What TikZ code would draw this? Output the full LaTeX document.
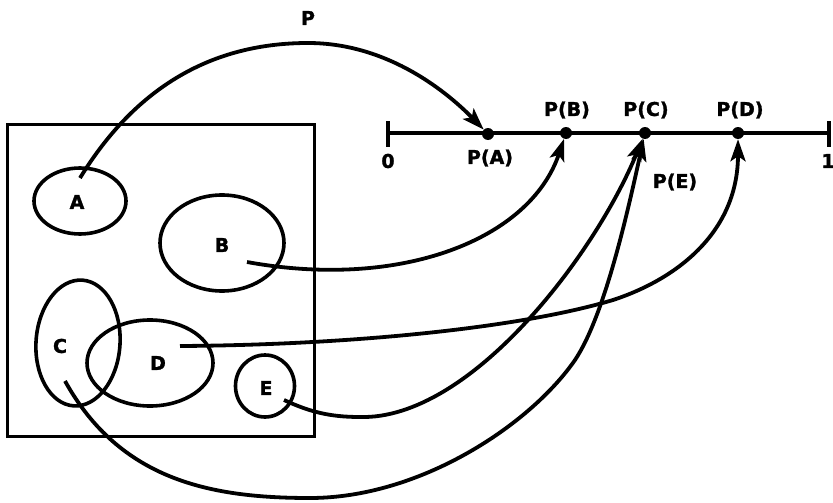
\documentclass[tikz,border=0pt]{standalone}
\usepackage{fontspec}
\setmainfont{DejaVu Sans}
\newfontfamily\lblfont[FakeBold=1.5]{DejaVu Sans Bold}
\usetikzlibrary{shapes.geometric,arrows.meta}
\begin{document}
\begin{tikzpicture}[x=1pt,y=-1pt,
  lbl/.style={font=\lblfont\fontsize{19}{21}\selectfont, inner sep=0pt},
  blob/.style={draw, ellipse, line width=3.6pt, inner sep=0pt},
  conn/.style={line width=3.8pt, -{Stealth[length=22pt,width=15pt,inset=5pt]}},
  dot/.style={circle, fill, inner sep=0pt, minimum size=12pt},
  axis/.style={line width=4pt},
  frame/.style={line width=3pt},
]
\useasboundingbox (0,0) rectangle (833,503);

% sample space
\node[draw, frame, rectangle, minimum width=307pt, minimum height=312pt, inner sep=0pt] (S) at (160.5,280) {};

% events
\node[blob, minimum width=92pt, minimum height=66pt] (eA) at (80,201) {};
\node[blob, minimum width=124pt, minimum height=96pt] (eB) at (222,243) {};
\node[blob, minimum width=84pt, minimum height=126pt, rotate=-4] (eC) at (78,343) {};
\node[blob, minimum width=126pt, minimum height=86pt] (eD) at (150,363) {};
\node[blob, minimum width=59pt, minimum height=62pt] (eE) at (265,386) {};

\node[lbl] (lA) at (77,202) {A};
\node[lbl] (lB) at (222,245) {B};
\node[lbl] (lC) at (60,346) {C};
\node[lbl] (lD) at (158,363) {D};
\node[lbl] (lE) at (266,388) {E};

% number line
\coordinate (L0) at (388,133);
\coordinate (L1) at (829,133);
\draw[axis] (L0) -- (L1);
\draw[axis] (388,121) -- (388,147);
\draw[axis] (829,121) -- (829,147);
\node[lbl] (n0) at (388,161) {0};
\node[lbl] (n1) at (828,161) {1};

\node[dot] (pA) at (488,134) {};
\node[dot] (pB) at (566,133) {};
\node[dot] (pC) at (645,133) {};
\node[dot] (pD) at (738,133) {};

\node[lbl] (tA) at (490,158) {P(A)};
\node[lbl] (tB) at (567,110) {P(B)};
\node[lbl] (tC) at (646,110) {P(C)};
\node[lbl] (tD) at (740,110) {P(D)};
\node[lbl] (tE) at (675,182) {P(E)};
\node[lbl] (tP) at (308,18) {P};

% start points of the arrows
\coordinate (sA) at (80,178);
\coordinate (sB) at (247,262);
\coordinate (sC) at (65,381);
\coordinate (sD) at (180,346);
\coordinate (sE) at (284,400);

% arrows
\draw[conn] (sA) .. controls (140,80) and (220,43) .. (308,43)
                 .. controls (390,43) and (450,95) .. (pA);
\draw[conn] (sB) .. controls (400,290) and (530,240) .. (pB);
\draw[conn] (sD) .. controls (350,345) and (520,328) .. (613,300)
                 .. controls (680,278) and (738,230) .. (pD);
\draw[conn] (sE) .. controls (310,412) and (330,417) .. (360,417)
                 .. controls (470,420) and (595,255) .. (pC);
\draw[conn] (sC) .. controls (120,480) and (210,498) .. (310,498)
                 .. controls (420,498) and (530,425) .. (575,360)
                 .. controls (605,315) and (628,210) .. (pC);
\end{tikzpicture}
\end{document}
